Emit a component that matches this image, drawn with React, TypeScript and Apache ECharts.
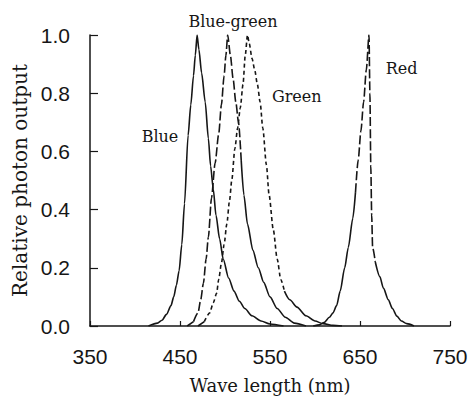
import React, { useEffect, useRef } from "react";
import * as echarts from "echarts";

// Wavelength (nm) / relative photon output pairs
const blueData: [number, number][] = [
  [415, 0], [425, 0.01], [430, 0.02], [435, 0.04], [440, 0.07], [443, 0.1], [446, 0.14],
  [449, 0.19], [452, 0.28], [455, 0.42], [459, 0.655], [462, 0.76], [465, 0.86], [467, 0.93],
  [469, 1.0], [471, 0.95], [474, 0.87], [478, 0.77], [481.5, 0.645], [484, 0.55], [487, 0.47],
  [490, 0.38], [494, 0.3], [498, 0.23], [504, 0.165], [510, 0.12], [516, 0.085], [522, 0.06],
  [530, 0.035], [540, 0.017], [550, 0.007], [565, 0],
];
const blueGreenData: [number, number][] = [
  [458, 0], [465, 0.015], [470, 0.045], [473, 0.09], [476, 0.147], [479, 0.23], [481.5, 0.305],
  [485, 0.44], [489, 0.56], [493, 0.66], [496, 0.76], [499, 0.86], [501, 0.93], [503, 1.0],
  [506, 0.93], [509, 0.85], [512, 0.77], [515, 0.7], [518, 0.57], [521, 0.45], [525, 0.35],
  [531, 0.26], [537, 0.2], [543, 0.15], [550, 0.1], [558, 0.06], [567, 0.03], [577, 0.01], [590, 0],
];
const greenData: [number, number][] = [
  [470, 0], [477, 0.015], [483, 0.045], [487, 0.08], [490.7, 0.113], [493, 0.16], [496, 0.215],
  [499, 0.28], [502, 0.35], [505, 0.43], [507.5, 0.5], [511, 0.61], [514, 0.68], [517, 0.75],
  [520, 0.83], [522.5, 0.93], [525, 1.0], [527, 0.97], [530, 0.92], [533, 0.88], [536, 0.83],
  [539, 0.77], [542, 0.68], [546, 0.554], [549, 0.45], [553.7, 0.33], [558, 0.23], [562, 0.16],
  [566, 0.12], [572, 0.09], [580, 0.065], [590, 0.035], [600, 0.017], [609, 0.008], [620, 0.002], [630, 0],
];
const redData: [number, number][] = [
  [598, 0], [605, 0.004], [610, 0.012], [616, 0.03], [620, 0.045], [624, 0.07], [628, 0.12],
  [633, 0.2], [637, 0.27], [642, 0.37], [645, 0.46], [648, 0.57], [651, 0.67], [654, 0.77],
  [657, 0.88], [660, 1.0], [661, 0.8], [662, 0.55], [663, 0.38], [664, 0.27], [667, 0.22],
  [672, 0.17], [676, 0.13], [681.5, 0.09], [686, 0.06], [691, 0.034], [696, 0.017], [702, 0.008], [710, 0],
];

// Curve annotations (data coordinates)
const labelTexts = ["Blue", "Blue-green", "Green", "Red"];
const labelX = [427.8, 508.9, 579.7, 696.3];
const labelY = [0.651, 1.045, 0.789, 0.884];

const xTicks = [350, 450, 550, 650, 750];

const INK = "#161616";

// split a curve into solid tails and a dashed middle part (wavelength range lo..hi)
function split(data: [number, number][], lo: number, hi: number) {
  let a = 0;
  data.forEach(([x], i) => {
    if (x <= lo) a = i;
  });
  let b = data.length - 1;
  for (let i = data.length - 1; i >= 0; i--) if (data[i][0] >= hi) b = i;
  const solid: any[] = [
    ...data.slice(0, a + 1),
    [(data[a][0] + data[a + 1][0]) / 2, "-"],
    ...data.slice(b),
  ];
  const dashed: any[] = data.slice(a, b + 1);
  return { solid, dashed };
}

function lineSeries(name: string, data: any[], type: any) {
  return {
    name,
    type: "line",
    data,
    showSymbol: false,
    symbol: "none",
    connectNulls: false,
    smooth: 0.25,
    smoothMonotone: "x",
    lineStyle: { color: INK, width: 1.6, type },
    z: 3,
  };
}

export default function App() {
  const ref = useRef<HTMLDivElement>(null);
  useEffect(() => {
    if (!ref.current) return;
    document.body.style.margin = "0";
    const chart = echarts.init(ref.current, undefined, { renderer: "svg" });
    const bg = split(blueGreenData, 468, 516);
    const gr = split(greenData, 482, 566);
    const rd = split(redData, 647, 665);
    chart.setOption({
      animation: false,
      backgroundColor: "#ffffff",
      grid: { left: 90, right: 24, top: 35, bottom: 69, containLabel: false },
      xAxis: {
        type: "value",
        min: xTicks[0],
        max: xTicks[xTicks.length - 1],
        interval: 100,
        name: "Wave length (nm)",
        nameLocation: "middle",
        nameGap: 50,
        nameTextStyle: { fontFamily: "DejaVu Serif", fontSize: 18, color: INK },
        axisLine: { lineStyle: { color: INK, width: 1.5 } },
        axisTick: { inside: true, length: 5, lineStyle: { color: INK, width: 1.2 } },
        axisLabel: { margin: 20, fontFamily: "Liberation Sans", fontSize: 21, color: INK },
        splitLine: { show: false },
      },
      yAxis: {
        type: "value",
        min: 0,
        max: 1,
        interval: 0.2,
        name: "Relative photon output",
        nameLocation: "middle",
        nameGap: 58,
        nameTextStyle: { fontFamily: "DejaVu Serif", fontSize: 20, color: INK },
        axisLine: { lineStyle: { color: INK, width: 1.5 } },
        axisTick: { inside: true, length: 8, lineStyle: { color: INK, width: 1.2 } },
        axisLabel: {
          margin: 20,
          fontFamily: "Liberation Sans",
          fontSize: 21,
          color: INK,
          formatter: (v: number) => v.toFixed(1),
        },
        splitLine: { show: false },
      },
      series: [
        lineSeries("Blue", blueData, "solid"),
        lineSeries("Blue-green", bg.solid, "solid"),
        lineSeries("Blue-green dashed", bg.dashed, [9, 3]),
        lineSeries("Green", gr.solid, "solid"),
        lineSeries("Green dashed", gr.dashed, [4, 3]),
        lineSeries("Red", rd.solid, "solid"),
        lineSeries("Red dashed", rd.dashed, [9, 3]),
      ],
    });
    const texts = labelTexts.map((t, i) => {
      const p = chart.convertToPixel({ gridIndex: 0 }, [labelX[i], labelY[i]]) as number[];
      return {
        type: "text",
        x: p[0],
        y: p[1],
        style: {
          text: t,
          fontFamily: "DejaVu Serif",
          fontSize: 16,
          fill: INK,
          textAlign: "center",
          textVerticalAlign: "middle",
        },
        z: 10,
      };
    });
    chart.setOption({ graphic: texts });
    return () => chart.dispose();
  }, []);
  return (
    <div
      ref={ref}
      style={{ width: 474, height: 399, position: "absolute", left: 0, top: 0 }}
    />
  );
}
